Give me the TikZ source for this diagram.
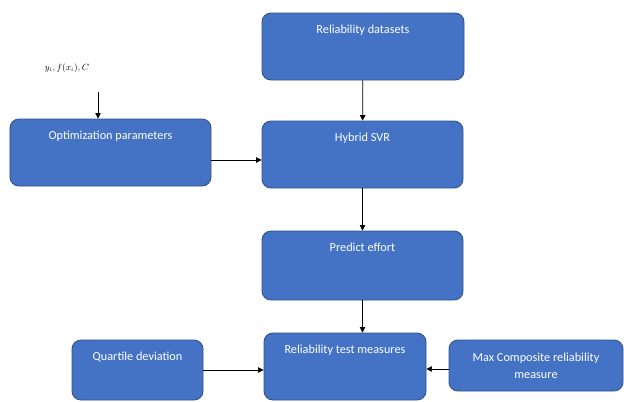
\documentclass[tikz,border=0pt]{standalone}
\usepackage{fontspec}
\setmainfont{Carlito}
\usepackage{amsmath}
\usepackage{tikz}
\usetikzlibrary{positioning,arrows.meta}
\definecolor{boxblue}{HTML}{4472C4}
\definecolor{boxedge}{HTML}{2F528F}

\tikzset{
    blok/.style={draw=boxedge, fill=boxblue, line width=0.9bp, rounded corners=9bp, inner sep=0pt},
    txt/.style={text=white, font=\fontsize{12.3}{14}\selectfont, anchor=north, yshift=-8.5bp},
    conn/.style={-{Triangle[length=5.5bp,width=5.5bp]}, line width=0.7bp, black}
}

\begin{document}
\begin{tikzpicture}[x=1bp,y=-1bp]
    \useasboundingbox (0,0) rectangle (624,401);
    % middle column
    \node[blok, minimum width=202bp, minimum height=67bp, label={[txt]north:Reliability datasets}] (data) at (363,46.5) {};
    \node[blok, minimum width=201bp, minimum height=67bp, label={[txt]north:Hybrid SVR}] (svr) at (362.5,154.5) {};
    \node[blok, minimum width=201bp, minimum height=69bp, label={[txt]north:Predict effort}] (pred) at (362.5,265.5) {};
    \node[blok, minimum width=162bp, minimum height=67bp, label={[txt]north:Reliability test measures}] (rtm) at (345,366.5) {};
    % left side
    \node[blok, minimum width=201bp, minimum height=67bp, label={[txt]north:Optimization parameters}] (opt) at (110.5,152.5) {};
    \node[blok, minimum width=131bp, minimum height=60bp, label={[txt]north:Quartile deviation}] (quart) at (137.5,370) {};
    \node[font=\fontsize{9}{10}\selectfont] (inp) at (67,68) {$y_i, f(x_i), C$};
    \coordinate (inpend) at (98,92);
    % right side
    \node[blok, minimum width=174bp, minimum height=51bp, align=center, text=white,
          font=\fontsize{12.3}{17}\selectfont] (maxc) at (536,365.5) {Max Composite reliability\\measure};
    % arrows
    \draw[conn] (inpend) -- (inpend |- opt.north);
    \draw[conn] (data) -- (svr);
    \draw[conn] ([yshift=-7.5bp]opt.east) -- ([yshift=-7.5bp]opt.east -| svr.west);
    \draw[conn] (svr) -- (pred);
    \draw[conn] (pred.south) -- (pred.south |- rtm.north);
    \draw[conn] (quart.east) -- (quart.east -| rtm.west);
    \draw[conn] ([yshift=-3.5bp]maxc.west) -- ([yshift=-3.5bp]maxc.west -| rtm.east);
\end{tikzpicture}
\end{document}
